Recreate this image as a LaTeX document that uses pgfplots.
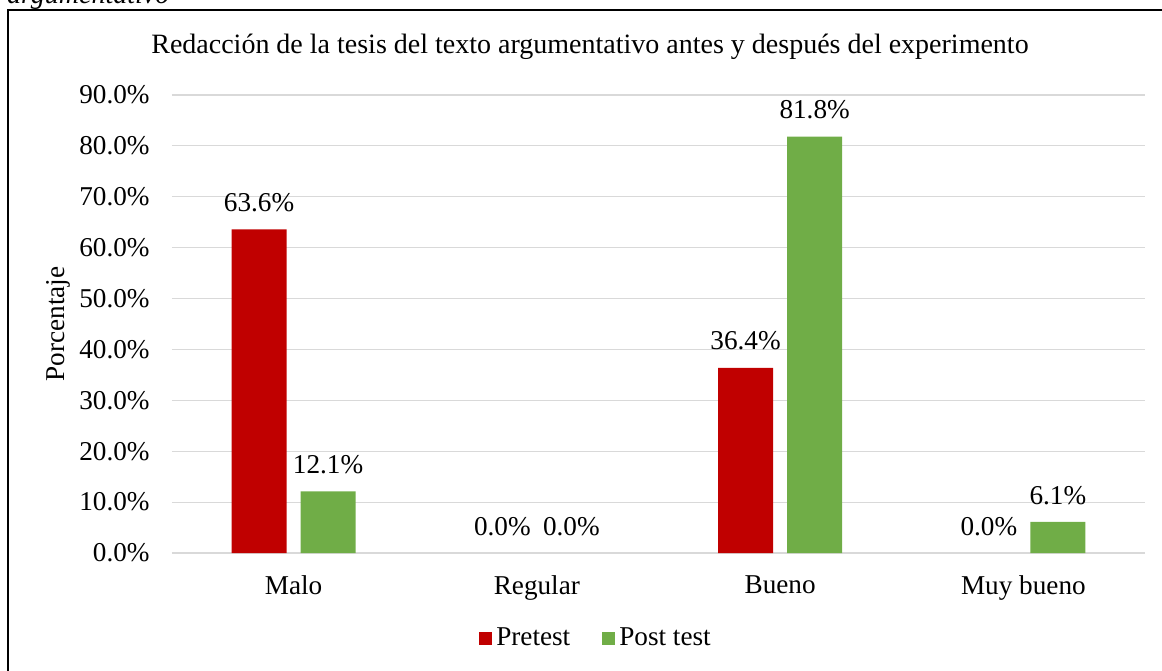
\documentclass[border=0pt]{standalone}
\usepackage{pgfplots}
\pgfplotsset{compat=1.18}
\usepackage{fontspec}
\setmainfont{Liberation Serif}
\newcommand\cf{\fontsize{13.6}{16}\selectfont}
\definecolor{pre}{HTML}{C00000}
\definecolor{post}{HTML}{70AD47}
\definecolor{gridc}{HTML}{D9D9D9}
\pgfkeys{/pgf/number format/assume math mode=true}
\begin{document}
\begin{tikzpicture}
% 1 px of the reference = 0.5pt, origin at the lower left of the plot box
\useasboundingbox (-86pt,-58.5pt) rectangle (495pt,276.5pt);
\node[anchor=base west, font=\fontsize{14}{16}\selectfont\itshape] at (-86pt,274.5pt) {argumentativo};
\draw[line width=0.7pt] (-82pt,-70pt) -- (-82pt,271.5pt) -- (510pt,271.5pt);
\begin{axis}[
    at={(0,0)}, anchor=south west,
    scale only axis,
    width=486.5pt, height=229pt,
    ybar, bar width=27.5pt,
    xmin=-0.5, xmax=3.5,
    ymin=0, ymax=90,
    xtick={0,1,2,3},
    xticklabels={Malo, Regular, Bueno, Muy bueno},
    ytick={0,10,...,90},
    yticklabel={\pgfmathprintnumber[fixed,fixed zerofill,precision=1]{\tick}\%},
    ymajorgrids,
    grid style={draw=gridc, line width=0.6pt},
    axis line style={draw=none},
    tick style={draw=none},
    major tick length=0pt,
    tick label style={font=\cf},
    xticklabel style={inner sep=0pt, yshift=-11pt},
    yticklabel style={inner sep=0pt, xshift=-11pt},
    ylabel={Porcentaje},
    ylabel style={font=\cf, at={(axis description cs:-0.1172,0.5)}, anchor=center},
    title={Redacción de la tesis del texto argumentativo antes y después del experimento},
    title style={font=\fontsize{14}{16}\selectfont, at={(axis description cs:0.4296,1)}, anchor=base, yshift=15pt},
    nodes near coords={\pgfmathprintnumber[fixed,fixed zerofill,precision=1]{\pgfplotspointmeta}\%},
    every node near coord/.append style={font=\cf, anchor=south, inner sep=0pt, yshift=8.5pt},
    legend style={at={(0.4368,-0.1856)}, anchor=center, draw=none, legend columns=2, font=\cf,
        /tikz/every even column/.append style={column sep=14pt}},
    legend image code/.code={\fill[#1] (0pt,-3.25pt) rectangle (6.5pt,3.25pt);},
]
\addplot[fill=pre, draw=none, bar shift=-17.25pt] coordinates {(0,63.6) (2,36.4)};
\addplot[fill=post, draw=none, bar shift=17.25pt] coordinates {(0,12.1) (2,81.8) (3,6.1)};
% zero values: label only, no visible bar
\addplot[draw=none, fill=none, bar shift=-17.25pt, forget plot] coordinates {(1,0) (3,0)};
\addplot[draw=none, fill=none, bar shift=17.25pt, forget plot] coordinates {(1,0)};
\legend{Pretest, Post test}
\end{axis}
\end{tikzpicture}
\end{document}
